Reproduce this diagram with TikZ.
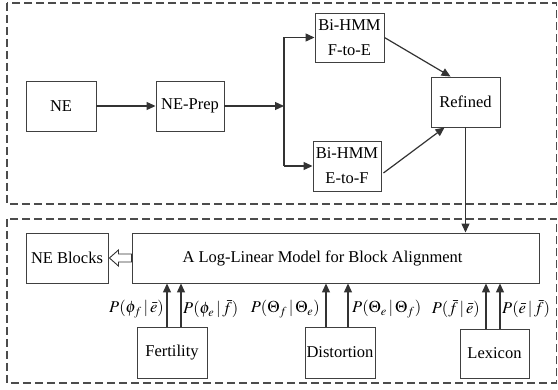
\documentclass[tikz,border=0pt]{standalone}
\usepackage{mathptmx}
\usepackage{fontspec}
\newfontfamily\tnr{Liberation Serif}
\usetikzlibrary{arrows.meta,calc}
\begin{document}
\begin{tikzpicture}[x=1pt,y=-1pt,
  every node/.style={font=\tnr\fontsize{16.5}{25}\selectfont},
  blk/.style={draw=black!75,line width=0.9pt,inner sep=0pt,align=center},
  frame/.style={draw=black!70,line width=1.1pt,dash pattern=on 8pt off 4pt},
  arr/.style={draw=black!80,line width=1.2pt,-{Triangle[length=9pt,width=8pt]}},
  ln/.style={draw=black!80,line width=1.2pt},
  lab/.style={inner sep=0pt}]
\useasboundingbox (0,0) rectangle (558,390);
\draw[frame] (7,3) rectangle (556.5,204);
\draw[frame] (7,219) rectangle (556.5,383);
% top row
\node[blk,minimum width=70pt,minimum height=50pt] (ne) at (61,106) {NE};
\node[blk,minimum width=68pt,minimum height=50pt] (nep) at (190,106) {NE-Prep};
\node[blk,minimum width=69pt,minimum height=49pt] (fe) at (349.5,37.5) {Bi-HMM\\F-to-E};
\node[blk,minimum width=68pt,minimum height=50pt] (ef) at (347,166) {Bi-HMM\\E-to-F};
\node[blk,minimum width=69pt,minimum height=50pt] (ref) at (465.5,102) {Refined};
\coordinate (j) at (284,106);
\draw[arr] (ne) -- (nep);
\draw[arr] (nep) -- (j);
\draw[ln] (j |- fe.west) -- (j |- ef.west);
\draw[arr] (j |- fe.west) -- (fe.west);
\draw[arr] (j |- ef.west) -- (ef.west);
\draw[arr] (fe.east) -- ($(ref.north west)+(20,0)$);
\draw[arr] ($(ef.east)+(2,7)$) -- ($(ref.south west)+(14,0)$);
% bottom
\node[blk,minimum width=82pt,minimum height=50pt] (neb) at (67,258) {NE Blocks};
\node[blk,minimum width=407pt,minimum height=50pt] (ll) at (335.5,258) {\hspace*{-26pt}A Log-Linear Model for Block Alignment};
\node[blk,minimum width=70pt,minimum height=51pt] (fer) at (172,352.5) {Fertility};
\node[blk,minimum width=70pt,minimum height=51pt] (dis) at (340,352.5) {Distortion};
\node[blk,minimum width=69pt,minimum height=49pt] (lex) at (494.5,353.5) {Lexicon};
\draw[arr] (ref.south) -- (ref.south |- ll.north);
% open arrow
\draw[draw=black!80,line width=0.9pt,fill=white]
  ($(neb.east)+(1,0)$) -- ($(neb.east)+(10,-8)$) -- ($(neb.east)+(10,-4)$) --
  (ll.west |- {$(neb.east)+(0,-4)$}) -- (ll.west |- {$(neb.east)+(0,4)$}) --
  ($(neb.east)+(10,4)$) -- ($(neb.east)+(10,8)$) -- cycle;
\coordinate (f1) at ($(fer.north)+(-5,0)$);
\coordinate (f2) at ($(fer.north)+(9,0)$);
\coordinate (d1) at ($(dis.north)+(-14,0)$);
\coordinate (d2) at ($(dis.north)+(8,0)$);
\coordinate (x1) at ($(lex.north)+(-8.5,0)$);
\coordinate (x2) at ($(lex.north)+(5.5,0)$);
\foreach \c in {f1,f2,d1,d2,x1,x2}{\draw[arr] (\c) -- (\c |- ll.south);}
\node[lab,anchor=east] (l1) at (164,309) {$P(\phi_f\,|\,\bar{e})$};
\node[lab,anchor=west] (l2) at (183,309) {$P(\phi_e\,|\,\bar{f})$};
\node[lab,anchor=east] (l3) at (320,309) {$P(\Theta_f\,|\,\Theta_e)$};
\node[lab,anchor=west] (l4) at (352,309) {$P(\Theta_e\,|\,\Theta_f)$};
\node[lab,anchor=east] (l5) at (480,309) {$P(\bar{f}\,|\,\bar{e})$};
\node[lab,anchor=west] (l6) at (502,309) {$P(\bar{e}\,|\,\bar{f})$};
\end{tikzpicture}
\end{document}
